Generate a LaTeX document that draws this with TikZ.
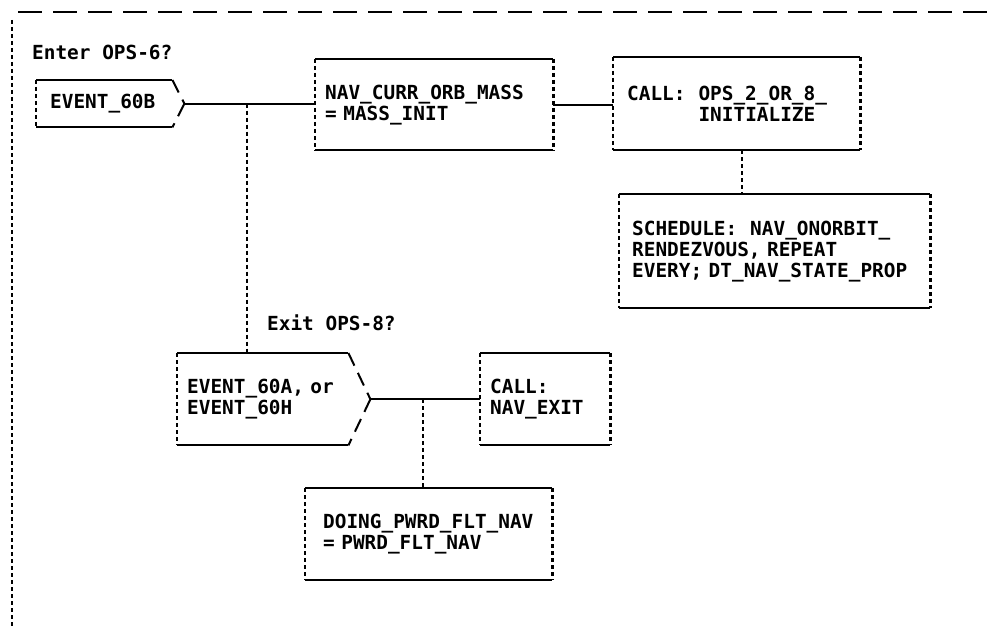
\documentclass[tikz,border=0pt]{standalone}
\usepackage{fontspec}
\setmonofont{DejaVu Sans Mono}

\begin{document}
\begin{tikzpicture}[x=1pt, y=-1pt,
    every node/.style={font=\ttfamily\bfseries\fontsize{19.4}{21}\selectfont},
    ascbox/.style={anchor=north west, align=left, inner ysep=0pt, inner xsep=#1},
    ascbox/.default=12pt,
    hline/.style={line width=2pt},
    vline/.style={line width=2.2pt, dash pattern=on 4pt off 3pt},
    slash/.style={line width=2pt, dash pattern=on 14pt off 8pt},
    framedash/.style={line width=2pt, dash pattern=on 24pt off 11pt}]
  \useasboundingbox (0,0) rectangle (997,626);
  % boxes
  \node[ascbox=14pt, text width=108pt, minimum height=47pt] (b60b) at (36,80) {EVENT\_60B};
  \node[ascbox=10pt, text width=218pt, minimum height=91pt] (nav) at (315,59) {NAV\_CURR\_ORB\_MASS\\= MASS\_INIT};
  \node[ascbox=14pt, text width=219pt, minimum height=93pt] (call) at (613,57) {CALL:~~OPS\_2\_OR\_8\_\\\hphantom{CALL:~~}INITIALIZE};
  \node[ascbox=13pt, text width=285pt, minimum height=114pt] (sched) at (619,194) {SCHEDULE:~~NAV\_ONORBIT\_\\RENDEZVOUS, REPEAT\\EVERY; DT\_NAV\_STATE\_PROP};
  \node[ascbox=10pt, text width=151pt, minimum height=92pt] (e60a) at (177,353) {EVENT\_60A, or\\EVENT\_60H};
  \node[ascbox=10pt, text width=110pt, minimum height=92pt] (nexit) at (480,353) {CALL:\\NAV\_EXIT};
  \node[ascbox=18pt, text width=211pt, minimum height=92pt] (doing) at (305,488) {DOING\_PWRD\_FLT\_NAV\\= PWRD\_FLT\_NAV};
  % labels
  \node[anchor=west, inner sep=0pt] (lenter) at (32,52) {Enter OPS-6?};
  \node[anchor=west, inner sep=0pt] (lexit) at (267,323) {Exit OPS-8?};
  % event tips
  \coordinate (tipb) at ([xshift=12pt]b60b.east);
  \coordinate (tipa) at ([xshift=22pt]e60a.east);
  % outlines
  \foreach \n in {nav, call, sched, nexit, doing} {
    \draw[hline] (\n.north west) -- (\n.north east);
    \draw[hline] (\n.south west) -- (\n.south east);
    \draw[vline] (\n.north west) -- (\n.south west);
    \draw[vline] (\n.north east) -- (\n.south east);
  }
  \foreach \n/\t in {b60b/tipb, e60a/tipa} {
    \draw[hline] (\n.north west) -- (\n.north east);
    \draw[hline] (\n.south west) -- (\n.south east);
    \draw[vline] (\n.north west) -- (\n.south west);
    \draw[slash] (\n.north east) -- (\t);
    \draw[slash] (\t) -- (\n.south east);
  }
  % connectors
  \draw[hline] (tipb) -- coordinate[pos=0.48] (j1) (tipb -| nav.west);
  \draw[hline] (nav.east) -- (nav.east -| call.west);
  \draw[vline] ([xshift=5pt]call.south) -- ([xshift=5pt]call.south |- sched.north);
  \draw[vline] (j1) -- (j1 |- e60a.north);
  \draw[hline] (tipa) -- coordinate[pos=0.48] (j2) (tipa -| nexit.west);
  \draw[vline] (j2) -- (j2 |- doing.north);
  % frame
  \draw[framedash] (18,12) -- (997,12);
  \draw[vline] (12,20) -- (12,626);
\end{tikzpicture}
\end{document}
